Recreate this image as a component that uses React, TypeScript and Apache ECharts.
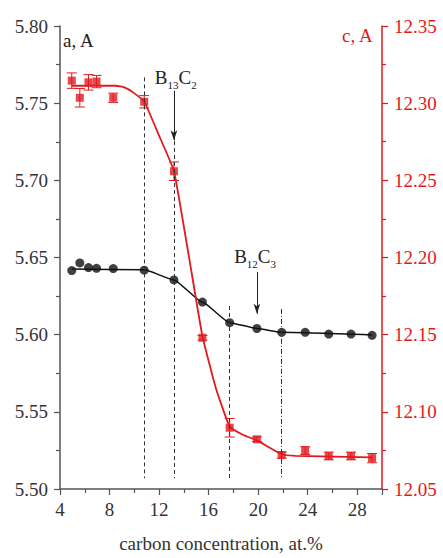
import React, { useEffect, useRef } from "react";
import * as echarts from "echarts";

const carbonX = [4.95, 5.6, 6.3, 6.95, 8.3, 10.8, 13.2, 15.5, 17.7, 19.9, 21.9, 23.8, 25.7, 27.5, 29.2];
const aValues = [5.6415, 5.6465, 5.6435, 5.643, 5.6428, 5.6418, 5.6355, 5.6211, 5.6078, 5.604, 5.6015, 5.6015, 5.6004, 5.6004, 5.5996];
const cValues = [12.3146, 12.3035, 12.3135, 12.314, 12.3035, 12.3009, 12.2559, 12.148, 12.0897, 12.0822, 12.072, 12.0749, 12.0714, 12.0714, 12.07];
const cErrors = [0.005, 0.006, 0.005, 0.004, 0.003, 0.004, 0.006, 0.0015, 0.006, 0.0015, 0.002, 0.0025, 0.0025, 0.0025, 0.003];

const aFitX = [4.95, 10.8, 13.2, 15.5, 17.7, 19.9, 21.9, 29.2];
const aFitY = [5.6425, 5.642, 5.6355, 5.621, 5.6078, 5.604, 5.6015, 5.5998];
const cFitX = [4.95, 8.5, 9.2, 9.9, 10.8, 12.0, 13.2, 14.4, 15.5, 16.6, 17.7, 18.8, 19.9, 21.9, 23.0, 29.2];
const cFitY = [12.3113, 12.3113, 12.3102, 12.307, 12.301, 12.279, 12.256, 12.201, 12.149, 12.115, 12.0905, 12.085, 12.0815, 12.0725, 12.0715, 12.0705];

const xTicks = { min: 4, max: 30, interval: 4 };
const aTicks = { min: 5.5, max: 5.8, interval: 0.05 };
const cTicks = { min: 12.05, max: 12.35, interval: 0.05 };

// reference lines in (x, a) units: [x, yTop, yBottom]
const dashedLines = [
  [10.8, 5.7667, 5.507],
  [13.2, 5.7255, 5.507],
  [17.7, 5.6186, 5.507],
];
const dashDotLines = [[21.9, 5.6167, 5.507]];
const arrows = [
  [13.2, 5.758, 5.726],
  [19.9, 5.6406, 5.6136],
];
const phaseLabels = [
  { x: 13.35, a: 5.7665, base1: "B", sub1: "13", base2: "C", sub2: "2" },
  { x: 19.75, a: 5.6505, base1: "B", sub1: "12", base2: "C", sub2: "3" },
];

const RED = "#e3191e";
const FONT = "'Liberation Serif', 'Times New Roman', serif";
const FS = 19;

export default function App() {
  const ref = useRef<HTMLDivElement>(null);
  useEffect(() => {
    document.body.style.margin = "0";
    const chart = echarts.init(ref.current!, null, { renderer: "svg" });
    const markLineData: any[] = [];
    dashedLines.forEach(([x, t, b]) =>
      markLineData.push([
        { coord: [x, t], symbol: "none", lineStyle: { type: [4, 3], color: "#333", width: 1 } },
        { coord: [x, b], symbol: "none" },
      ])
    );
    dashDotLines.forEach(([x, t, b]) =>
      markLineData.push([
        { coord: [x, t], symbol: "none", lineStyle: { type: [5, 2, 1, 2], color: "#333", width: 1 } },
        { coord: [x, b], symbol: "none" },
      ])
    );
    arrows.forEach(([x, t, b]) =>
      markLineData.push([
        { coord: [x, t], symbol: "none", lineStyle: { type: "solid", color: "#222", width: 1 } },
        { coord: [x, b], symbol: "arrow", symbolSize: [5, 10] },
      ])
    );
    const rich = {
      b: { fontFamily: FONT, fontSize: FS, color: "#222", lineHeight: 24 },
      s: { fontFamily: FONT, fontSize: 11, color: "#222", lineHeight: 24, padding: [14, 0, 0, 0] },
    };
    const axisCommon = {
      axisLine: { show: true, lineStyle: { color: "#555", width: 1.5 } },
      axisTick: { show: true, length: 6, inside: false, lineStyle: { color: "#555", width: 1.2 } },
      minorTick: { show: true, splitNumber: 2, length: 4, lineStyle: { color: "#555", width: 1.2 } },
      splitLine: { show: false },
    };
    chart.setOption({
      animation: false,
      textStyle: { fontFamily: FONT },
      grid: { left: 60, right: 61, top: 26, bottom: 53 },
      xAxis: {
        type: "value",
        ...xTicks,
        ...axisCommon,
        axisLabel: {
          fontFamily: FONT,
          fontSize: FS,
          color: "#333",
          margin: 11,
          formatter: (v: number) => (v === 30 ? "" : String(v)),
        },
        name: "carbon concentration, at.%",
        nameLocation: "middle",
        nameGap: 45,
        nameTextStyle: { fontFamily: FONT, fontSize: FS, color: "#333" },
      },
      yAxis: [
        {
          type: "value",
          ...aTicks,
          ...axisCommon,
          axisLabel: { fontFamily: FONT, fontSize: FS, color: "#333", margin: 12, formatter: (v: number) => v.toFixed(2) },
        },
        {
          type: "value",
          position: "right",
          ...cTicks,
          ...axisCommon,
          axisLine: { show: true, lineStyle: { color: RED, width: 1.5 } },
          axisTick: { show: true, length: 6, lineStyle: { color: RED, width: 1.2 } },
          minorTick: { show: true, splitNumber: 2, length: 4, lineStyle: { color: RED, width: 1.2 } },
          axisLabel: { fontFamily: FONT, fontSize: FS, color: RED, margin: 12, formatter: (v: number) => v.toFixed(2) },
        },
      ],
      graphic: [
        { type: "text", left: 63, top: 31, style: { text: "a, A", font: `${FS}px ${FONT}`, fill: "#222" } },
        { type: "text", left: 342, top: 26, style: { text: "c, A", font: `${FS}px ${FONT}`, fill: RED } },
      ],
      series: [
        {
          type: "line",
          yAxisIndex: 0,
          data: [],
          silent: true,
          markLine: { silent: true, animation: false, label: { show: false }, data: markLineData },
          markPoint: {
            silent: true,
            symbol: "circle",
            symbolSize: 0,
            data: phaseLabels.map((p) => ({
              coord: [p.x, p.a],
              label: {
                show: true,
                position: "inside",
                formatter: `{b|${p.base1}}{s|${p.sub1}}{b|${p.base2}}{s|${p.sub2}}`,
                rich,
              },
            })),
          },
        },
        {
          type: "line",
          yAxisIndex: 0,
          data: aFitX.map((x, i) => [x, aFitY[i]]),
          showSymbol: false,
          smooth: 0.15,
          smoothMonotone: "x",
          lineStyle: { color: "#111", width: 1.5 },
          z: 2,
        },
        {
          type: "scatter",
          yAxisIndex: 0,
          data: carbonX.map((x, i) => [x, aValues[i]]),
          symbol: "circle",
          symbolSize: 9,
          itemStyle: { color: "#111" },
          z: 3,
        },
        {
          type: "line",
          yAxisIndex: 1,
          data: cFitX.map((x, i) => [x, cFitY[i]]),
          showSymbol: false,
          smooth: 0.12,
          lineStyle: { color: RED, width: 1.8 },
          z: 2,
        },
        {
          type: "custom",
          yAxisIndex: 1,
          data: carbonX.map((x, i) => [x, cValues[i] - cErrors[i], cValues[i] + cErrors[i]]),
          renderItem: (params: any, api: any) => {
            const x = api.value(0);
            const lo = api.coord([x, api.value(1)]);
            const hi = api.coord([x, api.value(2)]);
            const hw = 5;
            const style = { stroke: RED, lineWidth: 1 };
            return {
              type: "group",
              children: [
                { type: "line", shape: { x1: lo[0], y1: lo[1], x2: hi[0], y2: hi[1] }, style },
                { type: "line", shape: { x1: lo[0] - hw, y1: lo[1], x2: lo[0] + hw, y2: lo[1] }, style },
                { type: "line", shape: { x1: hi[0] - hw, y1: hi[1], x2: hi[0] + hw, y2: hi[1] }, style },
              ],
            };
          },
          z: 3,
        },
        {
          type: "scatter",
          yAxisIndex: 1,
          data: carbonX.map((x, i) => [x, cValues[i]]),
          symbol: "rect",
          symbolSize: 8,
          itemStyle: { color: RED },
          z: 4,
        },
      ],
    });
    return () => chart.dispose();
  }, []);
  return <div ref={ref} style={{ width: 443, height: 558 }} />;
}
